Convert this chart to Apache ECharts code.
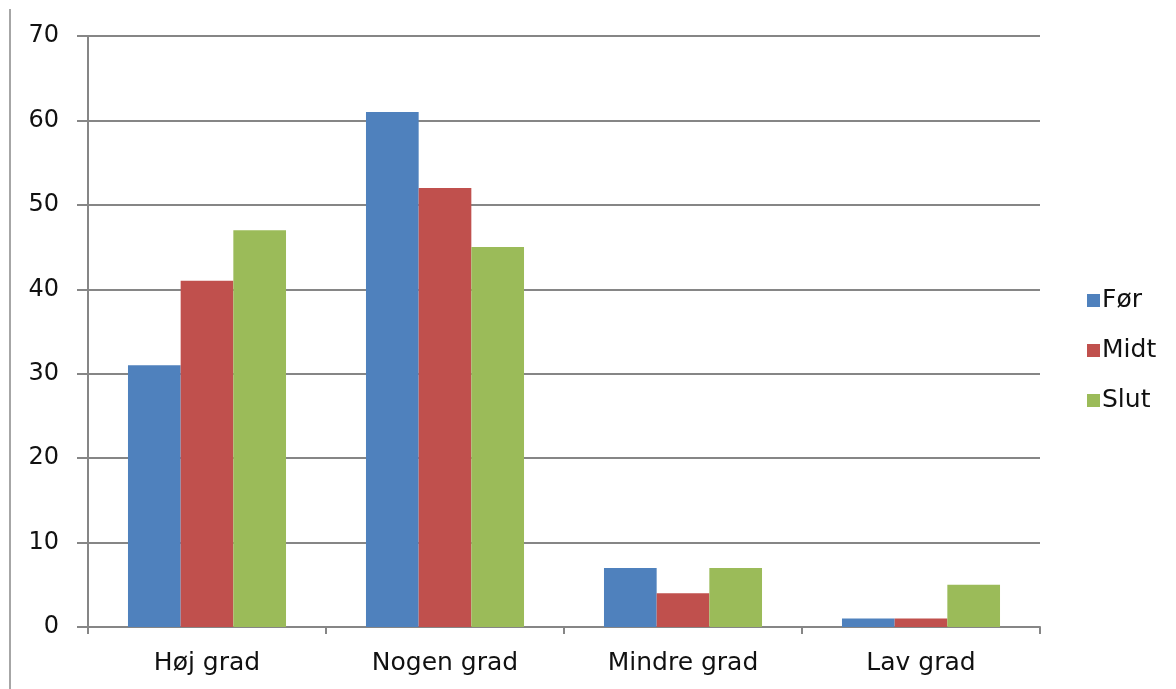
<!DOCTYPE html>
<html>
<head>
<meta charset="utf-8">
<script src="https://cdn.jsdelivr.net/npm/echarts@6/dist/echarts.min.js"></script>
<style>
  html, body { margin: 0; padding: 0; background: #fff; }
  #chart { width: 1176px; height: 689px; }
</style>
</head>
<body>
<div id="chart"></div>
<script>
// Categories and series values
const categories = ['Høj grad', 'Nogen grad', 'Mindre grad', 'Lav grad'];
const seriesNames = ['Før', 'Midt', 'Slut'];
const forValues = [31, 61, 7, 1];
const midtValues = [41, 52, 4, 1];
const slutValues = [47, 45, 7, 5];
const colors = ['#4F81BD', '#C0504D', '#9BBB59'];

const font = 'DejaVu Sans, Verdana, sans-serif';
const textColor = '#111';
const chart = echarts.init(document.getElementById('chart'));

const valueSets = [forValues, midtValues, slutValues];

chart.setOption({
  animation: false,
  grid: { left: 88, right: 136, top: 36, bottom: 62, containLabel: false },
  legend: {
    orient: 'vertical',
    left: 1082,
    top: 283,
    itemWidth: 13,
    itemHeight: 13,
    itemGap: 25,
    icon: 'rect',
    textStyle: { fontFamily: font, fontSize: 25, color: textColor, padding: [0, 0, 0, -3] },
    data: seriesNames
  },
  xAxis: {
    type: 'category',
    data: categories,
    axisLine: { lineStyle: { color: '#868686', width: 2 } },
    axisTick: { show: true, length: 7, lineStyle: { color: '#868686', width: 2 } },
    axisLabel: { fontFamily: font, fontSize: 25, color: textColor, margin: 24 }
  },
  yAxis: {
    type: 'value',
    min: 0,
    max: 70,
    interval: 10,
    axisLine: { show: true, lineStyle: { color: '#868686', width: 2 } },
    axisTick: { show: true, length: 11, inside: false, lineStyle: { color: '#868686', width: 2 } },
    axisLabel: { fontFamily: font, fontSize: 24, color: textColor, margin: 29 },
    splitLine: { lineStyle: { color: '#868686', width: 2 } }
  },
  graphic: [{
    type: 'line',
    shape: { x1: 10, y1: 9, x2: 10, y2: 689 },
    style: { stroke: '#a6a6a6', lineWidth: 2 }
  }],
  series: seriesNames.map((name, i) => ({
    name: name,
    type: 'bar',
    data: valueSets[i],
    barGap: '0%',
    barCategoryGap: '33.6%',
    itemStyle: { color: colors[i] }
  }))
});
</script>
</body>
</html>
